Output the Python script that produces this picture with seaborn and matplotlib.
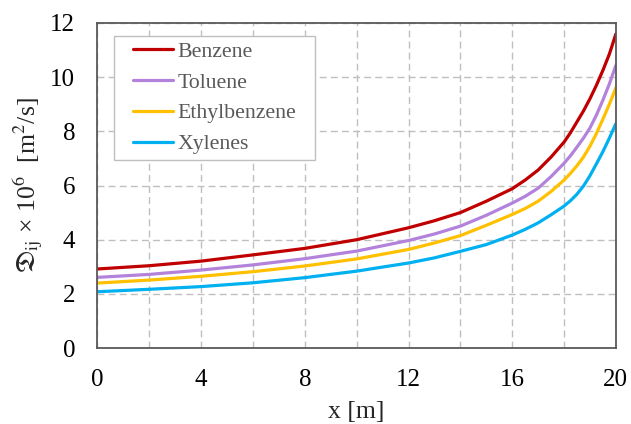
import numpy as np
import pandas as pd
import matplotlib
matplotlib.use("Agg")
import matplotlib.pyplot as plt
from matplotlib.patches import Rectangle
import seaborn as sns

x_m = [0, 2, 4, 6, 8, 10, 12, 13, 14, 15, 16, 16.5, 17, 17.5, 18, 18.25, 18.5, 18.75, 19, 19.25, 19.5, 19.75, 20]
benzene = [2.92, 3.04, 3.21, 3.44, 3.68, 4.00, 4.44, 4.70, 5.00, 5.42, 5.88, 6.20, 6.57, 7.05, 7.60, 7.95, 8.35, 8.75, 9.20, 9.70, 10.25, 10.85, 11.59]
toluene = [2.61, 2.72, 2.88, 3.07, 3.30, 3.58, 3.97, 4.21, 4.50, 4.90, 5.35, 5.60, 5.90, 6.33, 6.82, 7.10, 7.42, 7.75, 8.12, 8.60, 9.15, 9.75, 10.43]
ethylbenzene = [2.40, 2.51, 2.65, 2.82, 3.03, 3.29, 3.64, 3.88, 4.15, 4.53, 4.93, 5.15, 5.42, 5.78, 6.20, 6.45, 6.73, 7.05, 7.45, 7.92, 8.45, 9.00, 9.60]
xylenes = [2.08, 2.17, 2.27, 2.41, 2.60, 2.84, 3.14, 3.33, 3.57, 3.82, 4.17, 4.38, 4.62, 4.92, 5.24, 5.44, 5.68, 5.98, 6.36, 6.80, 7.25, 7.75, 8.28]

series_names = ["Benzene", "Toluene", "Ethylbenzene", "Xylenes"]
series_vals = [benzene, toluene, ethylbenzene, xylenes]
colors = ["#C00000", "#B383DC", "#FFC000", "#00B0F0"]

x_ticks = [0, 4, 8, 12, 16, 20]
y_ticks = [0, 2, 4, 6, 8, 10, 12]

sns.set_theme(style="white")
plt.rcParams["font.family"] = ["Liberation Serif", "DejaVu Serif"]
plt.rcParams["mathtext.fontset"] = "stix"

df = pd.DataFrame({
    "x": np.tile(x_m, len(series_names)),
    "D": np.concatenate(series_vals),
    "species": np.repeat(series_names, len(x_m)),
})

fig = plt.figure(figsize=(6.31, 4.24), dpi=100)
ax = fig.add_axes([0.1545, 0.179, 0.8215, 0.767])

sns.lineplot(data=df, x="x", y="D", hue="species", hue_order=series_names,
             palette=colors, linewidth=2.3, ax=ax, legend=True)

ax.set_xlim(0, 20)
ax.set_ylim(0, 12)
ax.set_xticks(x_ticks)
ax.set_xticks([2, 6, 10, 14, 18], minor=True)
ax.set_yticks(y_ticks)

ax.grid(True, which="both", axis="x", color="#BFBFBF", linestyle=(0, (5, 3)), linewidth=1)
ax.grid(True, which="major", axis="y", color="#BFBFBF", linestyle=(0, (5, 3)), linewidth=1)
ax.set_axisbelow(True)

for s in ax.spines.values():
    s.set_color("#595959")
    s.set_linewidth(1.3)

ax.tick_params(axis="both", which="both", length=0, labelsize=18, colors="black")
ax.tick_params(axis="x", pad=15)
ax.tick_params(axis="y", pad=16)

ax.set_xlabel("x [m]", fontsize=18.5, labelpad=7)
ax.set_ylabel(r"$\mathfrak{D}_{\mathrm{ij}}$ × 10$^{6}$  [m$^{2}$/s]", fontsize=18.5, labelpad=4)

leg = ax.legend(loc="upper left", bbox_to_anchor=(0.0685, 0.942), frameon=False,
                fontsize=15.7, handlelength=1.85, handletextpad=0.2, borderpad=0.0,
                labelspacing=0.48, borderaxespad=0)
for t in leg.get_texts():
    t.set_color("#595959")
for h in leg.get_lines():
    h.set_linewidth(2.3)

# legend frame with Excel-like padding (wider horizontally than vertically)
fig.canvas.draw()
bb = leg.get_window_extent(fig.canvas.get_renderer())
pad_x, pad_y = 19, 6
(fx0, fy0), (fx1, fy1) = fig.transFigure.inverted().transform(
    [(bb.x0 - pad_x, bb.y0 - pad_y), (bb.x1 + pad_x, bb.y1 + pad_y)])
frame = Rectangle((fx0, fy0), fx1 - fx0, fy1 - fy0, transform=fig.transFigure,
                  facecolor="white", edgecolor="#BFBFBF", linewidth=1.0,
                  zorder=4.9, clip_on=False)
ax.add_patch(frame)

fig.savefig("out.png", dpi=100)
